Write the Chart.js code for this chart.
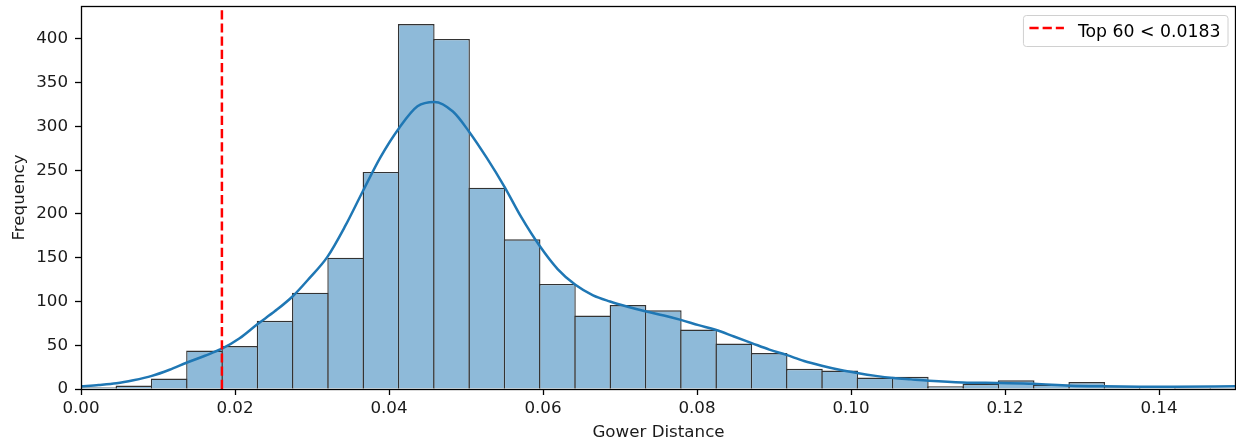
<!doctype html>
<html>
  <head>
    <meta charset="utf-8">
    <title>Gower Distance Histogram</title>
    <script src="https://cdn.jsdelivr.net/npm/chart.js"></script>
    <style>
      html, body { margin: 0; padding: 0; background: #fff; }
      canvas { display: block; }
    </style>
  </head>
  <body>
    <canvas id="hist" width="1236" height="448"></canvas>

    <script>
      // histogram bins (counts per bin, bins start at 0)
      const binStart = 0;
      const binWidth = 0.004583;
      const counts = [2, 4, 12, 44, 49, 78, 110, 150, 248, 417, 400, 230, 171, 120, 84, 96,
        90, 68, 52, 41, 23, 21, 13, 14, 3, 6, 10, 5, 8, 3, 2, 1, 1];

      // kde curve, scaled to counts
      const kdeX = [0.0000, 0.0023, 0.0046, 0.0068, 0.0092, 0.0115, 0.0137, 0.0161, 0.0183, 0.0206,
        0.0229, 0.0252, 0.0275, 0.0297, 0.0320, 0.0343, 0.0366, 0.0389, 0.0413, 0.0437,
        0.0459, 0.0483, 0.0504, 0.0527, 0.0550, 0.0572, 0.0596, 0.0619, 0.0642, 0.0665,
        0.0687, 0.0710, 0.0734, 0.0757, 0.0779, 0.0802, 0.0824, 0.0848, 0.0871, 0.0894,
        0.0916, 0.0939, 0.0962, 0.0985, 0.1008, 0.1032, 0.1055, 0.1078, 0.1101, 0.1145,
        0.1192, 0.1237, 0.1284, 0.1329, 0.1375, 0.1420, 0.1500];
      const kdeY = [3, 4.5, 6.5, 10, 15, 22, 30, 38, 46, 58,
        74, 89, 106, 127, 151, 186, 226, 265, 298, 323,
        328, 317, 294, 264, 231, 196, 163, 137, 119, 107,
        100, 94, 88.6, 84, 79, 73, 67.7, 60, 52.5, 45,
        39, 32, 26.6, 22, 18.3, 15, 12.6, 11, 9.5, 7.5,
        6.8, 6, 3.8, 3, 2.6, 2.5, 3];

      const cutoff = 0.0183;
      const cutoffLabel = 'Top 60 < 0.0183';

      const xTicks = [0, 0.02, 0.04, 0.06, 0.08, 0.10, 0.12, 0.14];
      const yTicks = [0, 50, 100, 150, 200, 250, 300, 350, 400];

      const FONT = "'DejaVu Sans', sans-serif";
      const FS = 16.7;
      Chart.defaults.font.family = FONT;
      Chart.defaults.font.size = FS;
      Chart.defaults.color = '#1a1a1a';

      // axes box on all four sides
      const frame = {
        id: 'frame',
        afterDatasetsDraw(chart) {
          const { ctx, chartArea: a } = chart;
          ctx.save();
          ctx.strokeStyle = '#000';
          ctx.lineWidth = 1.3;
          ctx.strokeRect(a.left + 0.5, a.top + 0.5, a.right - a.left - 1, a.bottom - a.top);
          ctx.restore();
        },
      };

      // legend box in the upper right corner of the plot
      const legendBox = {
        id: 'legendBox',
        afterDraw(chart) {
          const { ctx, chartArea: a } = chart;
          ctx.save();
          ctx.font = '17.3px ' + FONT;
          const tw = ctx.measureText(cutoffLabel).width;
          const w = 6.5 + 34.5 + 14 + tw + 7;
          const h = 31;
          const x = a.right - 8.5 - w;
          const y = a.top + 9;
          ctx.beginPath();
          ctx.roundRect(x + 0.5, y + 0.5, w, h, 3);
          ctx.fillStyle = 'rgba(255,255,255,0.8)';
          ctx.fill();
          ctx.strokeStyle = '#d0d0d0';
          ctx.lineWidth = 1;
          ctx.stroke();

          ctx.beginPath();
          ctx.setLineDash([9.2, 4]);
          ctx.strokeStyle = 'red';
          ctx.lineWidth = 2.5;
          ctx.moveTo(x + 6.5, y + 13);
          ctx.lineTo(x + 41, y + 13);
          ctx.stroke();
          ctx.setLineDash([]);

          ctx.fillStyle = '#000';
          ctx.textBaseline = 'alphabetic';
          ctx.fillText(cutoffLabel, x + 55, y + 21.5);
          ctx.restore();
        },
      };

      const barData = counts.map((c, i) => ({ x: binStart + (i + 0.5) * binWidth, y: c }));
      const kdeData = kdeX.map((x, i) => ({ x: x, y: kdeY[i] }));

      new Chart(document.getElementById('hist'), {
        type: 'bar',
        data: {
          datasets: [
            {
              type: 'bar',
              data: barData,
              backgroundColor: '#8ebad9',
              borderColor: '#333333',
              borderWidth: 1.4,
              barPercentage: 1.04,
              categoryPercentage: 1,
              grouped: false,
              order: 3,
            },
            {
              type: 'line',
              data: kdeData,
              borderColor: '#1f77b4',
              borderWidth: 2.5,
              pointRadius: 0,
              cubicInterpolationMode: 'monotone',
              fill: false,
              order: 2,
            },
            {
              type: 'line',
              label: cutoffLabel,
              data: [{ x: cutoff, y: 0 }, { x: cutoff, y: 440 }],
              borderColor: 'red',
              borderWidth: 2.5,
              borderDash: [9.2, 4],
              pointRadius: 0,
              fill: false,
              order: 1,
            },
          ],
        },
        options: {
          responsive: false,
          animation: false,
          devicePixelRatio: 1,
          layout: { padding: { top: 6, right: 0, bottom: 0, left: 0 } },
          plugins: {
            legend: { display: false },
            tooltip: { enabled: false },
          },
          scales: {
            x: {
              type: 'linear',
              min: 0,
              max: 0.15,
              offset: false,
              afterBuildTicks: (s) => { s.ticks = xTicks.map((v) => ({ value: v })); },
              afterFit: (s) => { s.height = 59; s.paddingLeft = 0; s.paddingRight = 0; },
              ticks: {
                autoSkip: false,
                maxRotation: 0,
                padding: 4,
                callback: (v) => Number(v).toFixed(2),
              },
              grid: {
                offset: false,
                drawOnChartArea: false,
                drawTicks: true,
                tickLength: 6,
                tickWidth: 1.3,
                color: '#000',
              },
              border: { display: false },
              title: {
                display: true,
                text: 'Gower Distance',
                padding: { top: 0, bottom: 5 },
              },
            },
            y: {
              min: 0,
              max: 437.6,
              afterBuildTicks: (s) => { s.ticks = yTicks.map((v) => ({ value: v })); },
              afterFit: (s) => { s.width = 81; s.paddingTop = 0; s.paddingBottom = 0; },
              ticks: { padding: 7 },
              grid: {
                drawOnChartArea: false,
                drawTicks: true,
                tickLength: 6,
                tickWidth: 1.3,
                color: '#000',
              },
              border: { display: false },
              title: {
                display: true,
                text: 'Frequency',
                padding: { top: 9.3, bottom: 0 },
              },
            },
          },
        },
        plugins: [frame, legendBox],
      });
    </script>
  </body>
</html>
